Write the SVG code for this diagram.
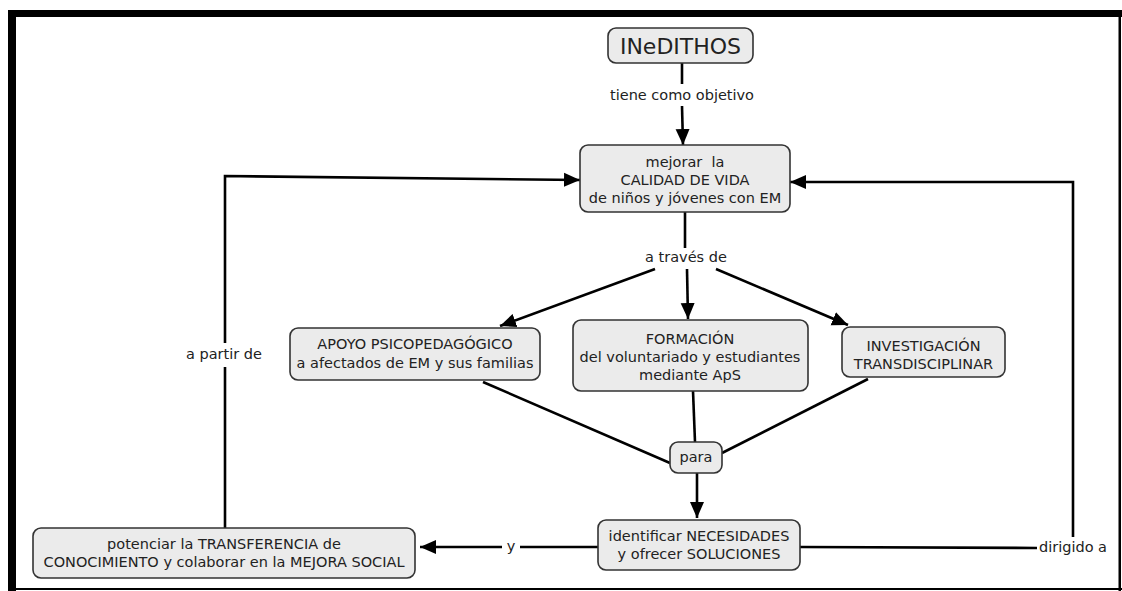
<svg xmlns="http://www.w3.org/2000/svg" width="1122" height="591" viewBox="0 0 1122 591">
<defs>
<marker id="arr" markerUnits="userSpaceOnUse" markerWidth="16" markerHeight="16" viewBox="0 0 16 16" refX="16" refY="8" orient="auto"><path d="M0,1 L16,8 L0,15 z" fill="#000"/></marker>
</defs>
<style>
.box{fill:#ebebeb;stroke:#333;stroke-width:1.6}
.t{font-family:"DejaVu Sans",Verdana,sans-serif;font-size:14.5px;fill:#222;text-anchor:middle}
.c{fill:none;stroke:#000;stroke-width:2.6}
.a{marker-end:url(#arr)}
</style>
<rect x="0" y="0" width="1122" height="591" fill="#fff"/>
<g id="frame">
<rect x="8" y="10" width="1114" height="7" fill="#000"/>
<rect x="8" y="10" width="8" height="581" fill="#000"/>
<rect x="1118.5" y="10" width="2.5" height="581" fill="#000"/>
<rect x="8" y="588" width="1114" height="2" fill="#000"/>
</g>
<g id="connectors">
<line class="c" x1="682" y1="63" x2="682" y2="84"/>
<line class="c a" x1="682" y1="106" x2="683" y2="145"/>
<line class="c" x1="685" y1="212" x2="685" y2="248"/>
<line class="c a" x1="655" y1="269" x2="500" y2="326"/>
<line class="c a" x1="687" y1="269" x2="688" y2="319"/>
<line class="c a" x1="716" y1="269" x2="848" y2="325"/>
<line class="c" x1="483" y1="382" x2="670" y2="463"/>
<line class="c" x1="693" y1="391" x2="695" y2="442"/>
<line class="c" x1="868" y1="379" x2="722" y2="453"/>
<line class="c a" x1="697" y1="473" x2="697" y2="518"/>
<line class="c" x1="598" y1="547" x2="520" y2="547"/>
<line class="c a" x1="502" y1="547" x2="420" y2="547"/>
<line class="c" x1="800" y1="547" x2="1037" y2="548"/>
<polyline class="c a" points="1073,537 1073,182 790,182"/>
<line class="c" x1="225" y1="528" x2="225" y2="367"/>
<polyline class="c a" points="225,343 225,176 580,180"/>
</g>
<g id="lbl-tiene"><text class="t" x="682" y="100">tiene como objetivo</text></g>
<g id="lbl-traves"><text class="t" x="686" y="262">a través de</text></g>
<g id="lbl-partir"><text class="t" x="224" y="359">a partir de</text></g>
<g id="lbl-y"><text class="t" x="511" y="551">y</text></g>
<g id="lbl-dirigido"><text class="t" x="1073" y="552">dirigido a</text></g>
<g id="n-inedithos">
<rect class="box" x="608" y="28" width="145" height="35" rx="8"/>
<text class="t" x="680.5" y="53.5" style="font-size:22px">INeDITHOS</text>
</g>
<g id="n-calidad">
<rect class="box" x="580" y="145" width="210" height="67" rx="8"/>
<text class="t" x="685" y="167" xml:space="preserve">mejorar  la</text>
<text class="t" x="685" y="185">CALIDAD DE VIDA</text>
<text class="t" x="685" y="203">de niños y jóvenes con EM</text>
</g>
<g id="n-apoyo">
<rect class="box" x="290" y="328" width="250" height="52" rx="8"/>
<text class="t" x="415" y="349">APOYO PSICOPEDAGÓGICO</text>
<text class="t" x="415" y="368">a afectados de EM y sus familias</text>
</g>
<g id="n-formacion">
<rect class="box" x="573" y="320" width="235" height="71" rx="8"/>
<text class="t" x="690" y="344">FORMACIÓN</text>
<text class="t" x="690" y="362">del voluntariado y estudiantes</text>
<text class="t" x="690" y="380">mediante ApS</text>
</g>
<g id="n-investigacion">
<rect class="box" x="842" y="327" width="163" height="50" rx="8"/>
<text class="t" x="923.5" y="351">INVESTIGACIÓN</text>
<text class="t" x="923.5" y="369">TRANSDISCIPLINAR</text>
</g>
<g id="n-para">
<rect class="box" x="670" y="442" width="52" height="31" rx="8"/>
<text class="t" x="696" y="462">para</text>
</g>
<g id="n-identificar">
<rect class="box" x="598" y="520" width="202" height="50" rx="8"/>
<text class="t" x="699" y="541">identificar NECESIDADES</text>
<text class="t" x="699" y="559">y ofrecer SOLUCIONES</text>
</g>
<g id="n-potenciar">
<rect class="box" x="33" y="528" width="382" height="50" rx="8"/>
<text class="t" x="224" y="549">potenciar la TRANSFERENCIA de</text>
<text class="t" x="224" y="567">CONOCIMIENTO y colaborar en la MEJORA SOCIAL</text>
</g>
</svg>
